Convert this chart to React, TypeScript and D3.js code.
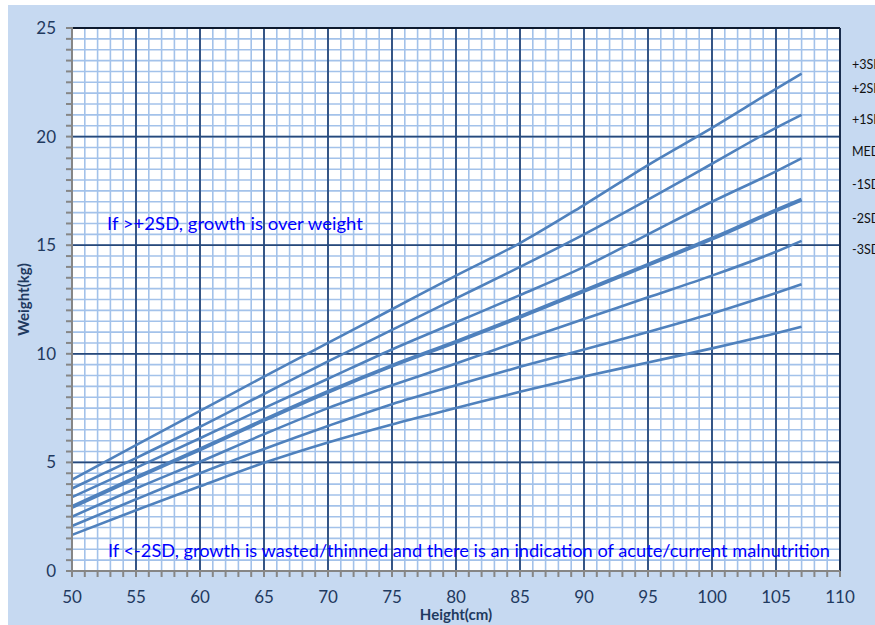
import React from "react";
import { scaleLinear, line, curveMonotoneX, range } from "d3";

// height (cm) where each curve was read
const heights = [50, 55, 60, 65, 70, 75, 80, 85, 90, 95, 100, 105, 107];

// weight (kg) per SD curve
const plus3sd = [4.2, 5.8, 7.37, 8.95, 10.5, 12.05, 13.6, 15.1, 16.85, 18.69, 20.4, 22.2, 22.9];
const plus2sd = [3.8, 5.2, 6.64, 8.15, 9.65, 11.1, 12.55, 14.0, 15.5, 17.1, 18.75, 20.4, 21.0];
const plus1sd = [3.4, 4.75, 6.11, 7.5, 8.85, 10.2, 11.45, 12.7, 14.0, 15.5, 17.0, 18.4, 19.0];
const median = [2.95, 4.3, 5.6, 6.95, 8.25, 9.45, 10.55, 11.7, 12.9, 14.1, 15.3, 16.6, 17.1];
const minus1sd = [2.5, 3.8, 5.03, 6.3, 7.5, 8.55, 9.55, 10.6, 11.6, 12.6, 13.6, 14.7, 15.2];
const minus2sd = [2.07, 3.3, 4.5, 5.62, 6.68, 7.68, 8.55, 9.4, 10.2, 11.0, 11.85, 12.8, 13.2];
const minus3sd = [1.66, 2.8, 3.9, 4.98, 5.92, 6.75, 7.5, 8.25, 8.95, 9.6, 10.25, 10.95, 11.25];

const seriesNames = ["+3SD", "+2SD", "+1SD", "MEDIAN", "-1SD", "-2SD", "-3SD"];
const seriesValues = [plus3sd, plus2sd, plus1sd, median, minus1sd, minus2sd, minus3sd];

const xTicks = [50, 55, 60, 65, 70, 75, 80, 85, 90, 95, 100, 105, 110];
const yTicks = [0, 5, 10, 15, 20, 25];

const overText = "If >+2SD, growth is over weight";
const underText =
  "If <-2SD, growth is wasted/thinned and there is an indication of acute/current malnutrition";

const W = 875;
const H = 625;
const left = 72;
const right = 840;
const top = 28;
const bottom = 571;

// legend rows on the right, top to bottom
const legendY = [65, 89, 120, 152, 185, 219, 250];

const font = "Lato, 'Open Sans', sans-serif";
const navy = "#1f3a60";

export default function App() {
  const x = scaleLinear().domain([50, 110]).range([left, right]);
  const y = scaleLinear().domain([0, 25]).range([bottom, top]);

  const minorX = range(50, 110.01, 1);
  const minorY = range(0, 25.01, 0.5);

  const path = line<number>()
    .x((_, i) => x(heights[i]))
    .y((d) => y(d))
    .curve(curveMonotoneX);

  return (
    <svg
      width={W}
      height={H}
      style={{ position: "absolute", left: 0, top: 0, display: "block" }}
    >
      <rect x={8} y={5} width={W - 8} height={H - 5} fill="#c6d9f1" />
      <rect x={left} y={top} width={right - left} height={bottom - top} fill="#ffffff" />

      {/* minor grid */}
      <g stroke="#a3c2ea" strokeWidth={1.6}>
        {minorX.map((v) => (
          <line key={"mx" + v} x1={x(v)} x2={x(v)} y1={top} y2={bottom} />
        ))}
        {minorY.map((v) => (
          <line key={"my" + v} x1={left} x2={right} y1={y(v)} y2={y(v)} />
        ))}
      </g>

      {/* major grid */}
      <g stroke="#27497a" strokeWidth={1.8}>
        {xTicks.map((v) => (
          <line key={"Mx" + v} x1={x(v)} x2={x(v)} y1={top} y2={bottom} />
        ))}
        {yTicks.map((v) => (
          <line key={"My" + v} x1={left} x2={right} y1={y(v)} y2={y(v)} />
        ))}
      </g>

      <line x1={left} x2={right} y1={top} y2={top} stroke="#0d1a2e" strokeWidth={2} />
      <line x1={right} x2={right} y1={top} y2={bottom} stroke="#1a2d4d" strokeWidth={2} />

      {/* curves */}
      <g fill="none" stroke="#4f81bd" strokeLinecap="butt">
        {seriesValues.map((vals, i) => (
          <path
            key={seriesNames[i]}
            d={path(vals) || ""}
            strokeWidth={seriesNames[i] === "MEDIAN" ? 4 : 2.6}
          />
        ))}
      </g>

      {/* axes */}
      <g stroke="#868686" strokeWidth={2}>
        <line x1={left} x2={left} y1={top - 1} y2={bottom + 1} />
        <line x1={left - 1} x2={right} y1={bottom} y2={bottom} />
        {minorY.map((v) => (
          <line key={"ty" + v} x1={left - 6} x2={left} y1={y(v)} y2={y(v)} />
        ))}
        {minorX.map((v) => (
          <line key={"tx" + v} x1={x(v)} x2={x(v)} y1={bottom} y2={bottom + 6} />
        ))}
      </g>

      <g fontFamily={font} fontSize={17} fill={navy}>
        {yTicks.map((v) => (
          <text key={"ly" + v} x={left - 16} y={y(v)} dy="0.35em" textAnchor="end">
            {v}
          </text>
        ))}
        {xTicks.map((v) => (
          <text key={"lx" + v} x={x(v)} y={bottom + 32} textAnchor="middle">
            {v}
          </text>
        ))}
      </g>

      <text
        x={456}
        y={620}
        textAnchor="middle"
        fontFamily={font}
        fontWeight="bold"
        fontSize={15}
        fill={navy}
      >
        Height(cm)
      </text>
      <text
        transform={`translate(29, ${(top + bottom) / 2}) rotate(-90)`}
        textAnchor="middle"
        fontFamily={font}
        fontWeight="bold"
        fontSize={15}
        fill={navy}
      >
        Weight(kg)
      </text>

      <g fontFamily={font} fontSize={17} fill="#0000ff">
        <text x={107} y={230} textLength={256} lengthAdjust="spacingAndGlyphs">
          {overText}
        </text>
        <text x={108} y={557} textLength={722} lengthAdjust="spacingAndGlyphs">
          {underText}
        </text>
      </g>

      <g fontFamily={font} fontSize={12.5} fill="#111111">
        {seriesNames.map((n, i) => (
          <text key={"lg" + n} x={852} y={legendY[i]} dy="0.35em">
            {n}
          </text>
        ))}
      </g>
    </svg>
  );
}
